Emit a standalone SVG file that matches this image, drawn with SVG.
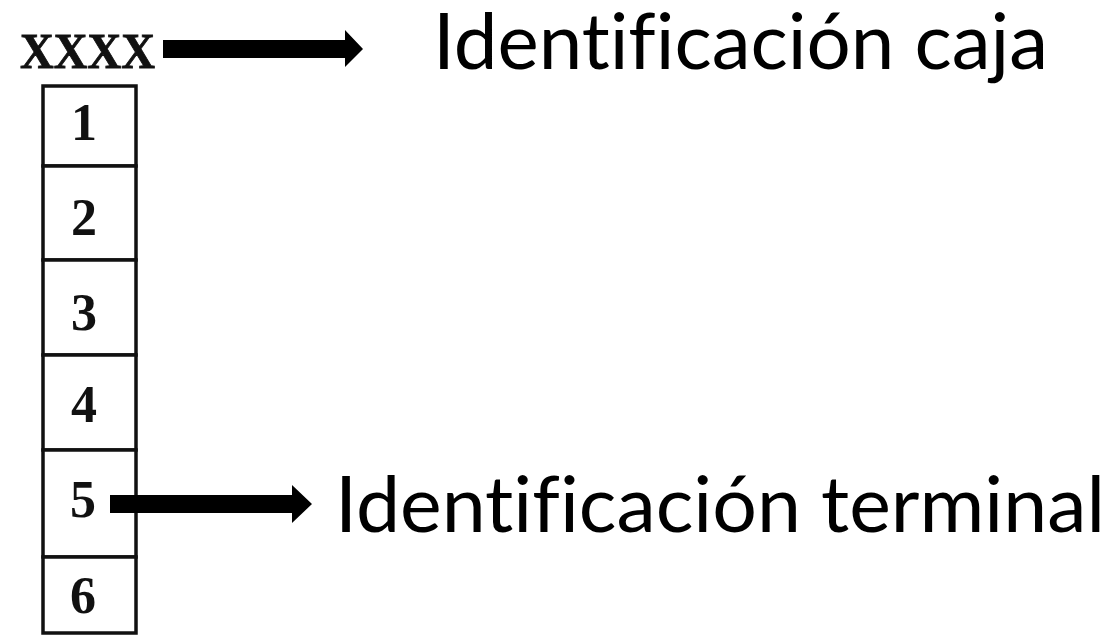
<svg xmlns="http://www.w3.org/2000/svg" width="1117" height="638" viewBox="0 0 1117 638">
<style>
.cell{fill:#fff;stroke:#111;stroke-width:3.5}
.num{font-family:"Liberation Serif",serif;font-weight:bold;font-size:52px;fill:#111;text-anchor:middle}
.lbl{font-family:Lato,"Open Sans",sans-serif;font-size:78px;fill:#000;font-variant-ligatures:none;font-feature-settings:"liga" 0,"clig" 0}
.arr{fill:#000}
</style>
<rect width="1117" height="638" fill="#fff"/>
<g id="box-id">
<text x="20" y="68" font-family="Liberation Serif,serif" font-weight="bold" font-size="50" fill="#111" stroke="#111" stroke-width="0.8" textLength="135" lengthAdjust="spacingAndGlyphs">XXXX</text>
</g>
<g id="terminals">
<g id="t1"><rect class="cell" x="43" y="86" width="93" height="80"/><text class="num" x="84" y="140">1</text></g>
<g id="t2"><rect class="cell" x="43" y="166" width="93" height="94"/><text class="num" x="84" y="235">2</text></g>
<g id="t3"><rect class="cell" x="43" y="260" width="93" height="95"/><text class="num" x="84" y="330">3</text></g>
<g id="t4"><rect class="cell" x="43" y="355" width="93" height="95"/><text class="num" x="84" y="422">4</text></g>
<g id="t5"><rect class="cell" x="43" y="450" width="93" height="107"/><text class="num" x="83" y="517">5</text></g>
<g id="t6"><rect class="cell" x="43" y="557" width="93" height="76"/><text class="num" x="83" y="613">6</text></g>
</g>
<g id="label-caja"><text class="lbl" x="433" y="69" textLength="615" lengthAdjust="spacingAndGlyphs">Identificación caja</text></g>
<g id="label-terminal"><text class="lbl" x="335" y="532" textLength="770" lengthAdjust="spacingAndGlyphs">Identificación terminal</text></g>
<g id="connectors">
<polygon class="arr" points="163,40 345,40 345,30 363,49 345,67 345,58 163,58"/>
<polygon class="arr" points="110,495 292,495 292,485 312,504 292,523 292,513 110,513"/>
</g>
</svg>
